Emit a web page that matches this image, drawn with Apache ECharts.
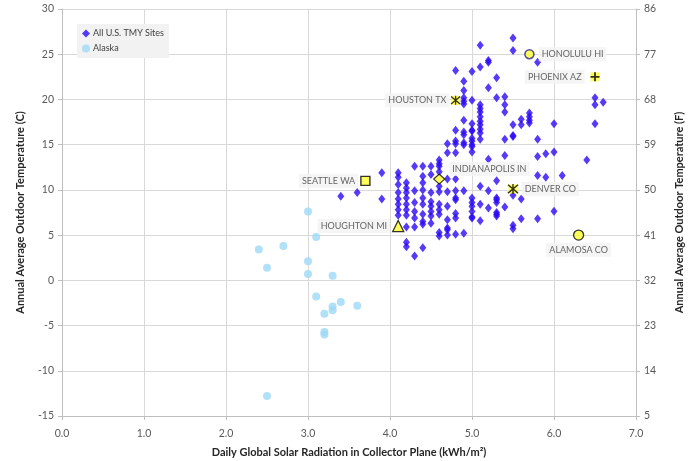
<!DOCTYPE html>
<html>
<head>
<meta charset="utf-8">
<script src="https://cdn.jsdelivr.net/npm/echarts@6/dist/echarts.min.js"></script>
<style>
  html, body { margin: 0; padding: 0; background: #fff; }
  #chart { width: 693px; height: 461px; }
</style>
</head>
<body>
<div id="chart"></div>
<script>
// Daily global solar radiation (kWh/m²) vs annual average temperature (°C)
const usSites = [
  [3.4,9.3],[3.6,9.7],[3.9,11.9],[3.9,9.0],
  [4.1,11.9],[4.1,11.4],[4.1,10.6],[4.1,9.7],[4.1,9.0],[4.1,8.4],[4.1,7.8],[4.1,7.2],
  [4.2,10.8],[4.2,10.2],[4.2,9.7],[4.2,9.1],[4.2,8.4],[4.2,7.8],[4.2,7.2],[4.2,5.9],[4.2,4.2],[4.2,3.7],
  [4.3,12.6],[4.3,9.9],[4.3,8.6],[4.3,7.6],[4.3,6.9],[4.3,5.9],[4.3,2.7],
  [4.4,12.6],[4.4,11.5],[4.4,10.8],[4.4,10.0],[4.4,9.1],[4.4,8.4],[4.4,7.3],[4.4,6.5],[4.4,6.2],[4.4,3.6],
  [4.5,12.6],[4.5,11.7],[4.5,9.7],[4.5,8.7],[4.5,8.2],[4.5,7.6],[4.5,7.1],[4.5,6.3],
  [4.6,13.3],[4.6,12.9],[4.6,12.6],[4.6,12.0],[4.6,10.4],[4.6,9.8],[4.6,8.4],[4.6,7.8],[4.6,7.3],[4.6,5.3],[4.6,4.9],
  [4.7,15.1],[4.7,14.1],[4.7,11.2],[4.7,9.8],[4.7,8.2],[4.7,6.7],[4.7,5.8],[4.7,5.6],[4.7,5.0],
  [4.8,23.2],[4.8,16.6],[4.8,15.4],[4.8,15.1],[4.8,14.1],[4.8,11.2],[4.8,9.9],[4.8,9.1],[4.8,8.9],[4.8,7.4],[4.8,6.9],[4.8,5.1],
  [4.9,22.0],[4.9,21.0],[4.9,20.2],[4.9,19.8],[4.9,19.5],[4.9,17.7],[4.9,16.4],[4.9,16.1],[4.9,15.2],[4.9,15.0],[4.9,9.9],[4.9,5.2],
  [5.0,23.1],[5.0,19.9],[5.0,17.3],[5.0,16.6],[5.0,16.5],[5.0,15.7],[5.0,15.4],[5.0,15.0],[5.0,14.8],[5.0,14.2],
  [5.0,9.1],[5.0,8.6],[5.0,8.2],[5.0,7.6],[5.0,7.0],[5.0,6.9],
  [5.1,26.0],[5.1,23.6],[5.1,19.4],[5.1,19.0],[5.1,18.6],[5.1,18.1],[5.1,17.6],[5.1,17.2],[5.1,16.7],[5.1,16.3],[5.1,15.6],
  [5.1,10.4],[5.1,8.4],[5.1,6.6],
  [5.2,24.3],[5.2,24.1],[5.2,21.3],[5.2,13.4],[5.2,9.9],[5.2,8.0],
  [5.3,22.4],[5.3,20.2],[5.3,11.0],[5.3,9.1],[5.3,8.9],[5.3,8.6],[5.3,7.5],[5.3,7.3],[5.3,7.1],
  [5.4,20.3],[5.4,19.4],[5.4,18.6],[5.4,15.6],[5.4,13.8],[5.4,8.1],
  [5.5,26.8],[5.5,25.4],[5.5,17.2],[5.5,16.0],[5.5,15.9],[5.5,9.4],[5.5,6.1],[5.5,5.7],
  [5.6,17.8],[5.6,17.2],[5.6,9.0],[5.6,6.8],
  [5.7,18.5],[5.7,18.1],[5.7,17.7],[5.7,17.4],
  [5.8,24.1],[5.8,15.6],[5.8,13.7],[5.8,11.6],[5.8,6.8],
  [5.9,14.0],[5.9,11.4],
  [6.0,17.3],[6.0,14.2],[6.0,7.65],
  [6.1,11.6],[6.4,13.3],
  [6.5,20.2],[6.5,19.4],[6.5,17.3],[6.6,19.7]
];

const alaskaSites = [
  [3.0,7.6],[3.1,4.8],[2.4,3.4],[2.7,3.8],[2.5,1.4],[3.0,2.1],[3.0,0.7],[3.3,0.5],
  [3.1,-1.8],[3.4,-2.4],[3.3,-2.9],[3.3,-3.3],[3.2,-3.7],[3.6,-2.8],[3.2,-5.7],[3.2,-6.0],[2.5,-12.8]
];

// Named locations
const siteNames     = ['HONOLULU HI','PHOENIX AZ','HOUSTON TX','SEATTLE WA','INDIANAPOLIS IN','DENVER CO','HOUGHTON MI','ALAMOSA CO'];
const siteRadiation = [5.7, 6.5, 4.8, 3.7, 4.6, 5.5, 4.1, 6.3];
const siteTempC     = [25.0, 22.5, 19.9, 11.0, 11.2, 10.1, 6.0, 5.0];

// Tick settings
const xTicks = { min: 0, max: 7, interval: 1 };
const cTicks = { min: -15, max: 30, interval: 5 };
const fTicks = { min: 5, max: 86, interval: 9 };

const FONT = 'Lato, "Open Sans", sans-serif';
const YELLOW = '#ffff33';
const AXIS_GRAY = '#bfbfbf';
const TEXT_GRAY = '#595959';

const starPath = 'path://M0,0L10,10M10,0L0,10M5,-1L5,11';
const plusPath = 'path://M5,0L5,10M0,5L10,5';

// Per-site marker look and label placement
const siteLook = {
  'HONOLULU HI':     { symbol: 'circle',   size: 9,  color: YELLOW, border: '#2b2b8c', bw: 1.6, pos: 'right',  dist: 4 },
  'PHOENIX AZ':      { symbol: plusPath,   size: 9,  color: 'transparent', border: '#000', bw: 1.8, pos: 'left', dist: 5, back: true },
  'HOUSTON TX':      { symbol: starPath,   size: 9,  color: 'transparent', border: '#000', bw: 1.3, pos: 'left', dist: 1, back: true },
  'SEATTLE WA':      { symbol: 'rect',     size: 9,  color: YELLOW, border: '#000', bw: 1.4, pos: 'left',   dist: 2 },
  'INDIANAPOLIS IN': { symbol: 'diamond',  size: [11, 10], color: YELLOW, border: '#000', bw: 1.2, pos: 'right', dist: 4, offset: [0, -10] },
  'DENVER CO':       { symbol: starPath,   size: 10, color: 'transparent', border: '#000', bw: 1.4, pos: 'right', dist: 3, back: true },
  'HOUGHTON MI':     { symbol: 'triangle', size: 11, color: YELLOW, border: '#000', bw: 1.3, pos: 'left',   dist: 2 },
  'ALAMOSA CO':      { symbol: 'circle',   size: 10, color: YELLOW, border: '#000', bw: 1.3, pos: 'bottom', dist: 2 }
};

const siteData = siteNames.map((name, i) => {
  const s = siteLook[name];
  return {
    name: name,
    value: [siteRadiation[i], siteTempC[i]],
    symbol: s.symbol,
    symbolSize: s.size,
    itemStyle: { color: s.color, borderColor: s.border, borderWidth: s.bw },
    label: {
      show: true,
      formatter: name,
      position: s.pos,
      distance: s.dist,
      offset: s.offset || [0, 0]
    }
  };
});

const backData = siteNames
  .map((name, i) => siteLook[name].back ? [siteRadiation[i], siteTempC[i]] : null)
  .filter(Boolean);

const chart = echarts.init(document.getElementById('chart'), null, { renderer: 'canvas' });

chart.setOption({
  backgroundColor: '#ffffff',
  animation: false,
  textStyle: { fontFamily: FONT },
  grid: { left: 62, right: 57, top: 9, bottom: 45, containLabel: false, outerBoundsMode: 'none' },
  legend: {
    data: ['All U.S. TMY Sites', 'Alaska'],
    orient: 'vertical',
    left: 77,
    top: 24,
    backgroundColor: '#f2f2f2',
    padding: [5, 5, 5, 5],
    itemGap: 6,
    itemWidth: 8,
    itemHeight: 8,
    textStyle: { fontFamily: FONT, fontSize: 9, color: '#404040', padding: [0, 0, 0, -2] }
  },
  xAxis: {
    type: 'value',
    min: xTicks.min, max: xTicks.max, interval: xTicks.interval,
    name: 'Daily Global Solar Radiation in Collector Plane (kWh/m²)',
    nameLocation: 'middle',
    nameGap: 31,
    nameTextStyle: { fontFamily: FONT, fontSize: 11, fontWeight: 'bold', color: '#262626' },
    axisLine: { onZero: false, lineStyle: { color: AXIS_GRAY } },
    axisTick: { show: true, length: 4, lineStyle: { color: AXIS_GRAY } },
    axisLabel: { formatter: v => v.toFixed(1), color: TEXT_GRAY, fontSize: 10.5, margin: 12 },
    splitLine: { show: true, lineStyle: { color: '#d9d9d9' } }
  },
  yAxis: [
    {
      type: 'value',
      position: 'left',
      min: cTicks.min, max: cTicks.max, interval: cTicks.interval,
      name: 'Annual Average Outdoor Temperature (C)',
      nameLocation: 'middle',
      nameRotate: 90,
      nameGap: 36,
      nameTextStyle: { fontFamily: FONT, fontSize: 11, fontWeight: 'bold', color: '#262626' },
      axisLine: { show: true, onZero: false, lineStyle: { color: AXIS_GRAY } },
      axisTick: { show: true, length: 4, lineStyle: { color: AXIS_GRAY } },
      axisLabel: { color: TEXT_GRAY, fontSize: 10.5, margin: 8 },
      splitLine: { show: true, lineStyle: { color: '#d9d9d9' } }
    },
    {
      type: 'value',
      position: 'right',
      min: fTicks.min, max: fTicks.max, interval: fTicks.interval,
      name: 'Annual Average Outdoor Temperature (F)',
      nameLocation: 'middle',
      nameRotate: 90,
      nameGap: 38,
      nameTextStyle: { fontFamily: FONT, fontSize: 11, fontWeight: 'bold', color: '#262626' },
      axisLine: { show: true, onZero: false, lineStyle: { color: AXIS_GRAY } },
      axisTick: { show: true, length: 4, lineStyle: { color: AXIS_GRAY } },
      axisLabel: { color: TEXT_GRAY, fontSize: 10.5, margin: 8 },
      splitLine: { show: false }
    }
  ],
  series: [
    {
      name: 'All U.S. TMY Sites',
      type: 'scatter',
      yAxisIndex: 0,
      symbol: 'diamond',
      symbolSize: [7, 9],
      itemStyle: { color: '#2a0af5' },
      data: usSites,
      z: 2
    },
    {
      name: 'Alaska',
      type: 'scatter',
      yAxisIndex: 0,
      symbol: 'circle',
      symbolSize: 8,
      itemStyle: { color: '#9dd8f7' },
      data: alaskaSites,
      z: 2
    },
    {
      name: 'site backs',
      type: 'scatter',
      yAxisIndex: 0,
      symbol: 'rect',
      symbolSize: 9,
      itemStyle: { color: YELLOW },
      data: backData,
      silent: true,
      z: 3
    },
    {
      name: 'sites',
      type: 'scatter',
      yAxisIndex: 0,
      data: siteData,
      z: 4,
      label: {
        show: true,
        fontFamily: FONT,
        fontSize: 9,
        color: '#404040',
        backgroundColor: '#f2f2f2',
        padding: [3, 3, 2, 3]
      }
    }
  ]
});
</script>
</body>
</html>
